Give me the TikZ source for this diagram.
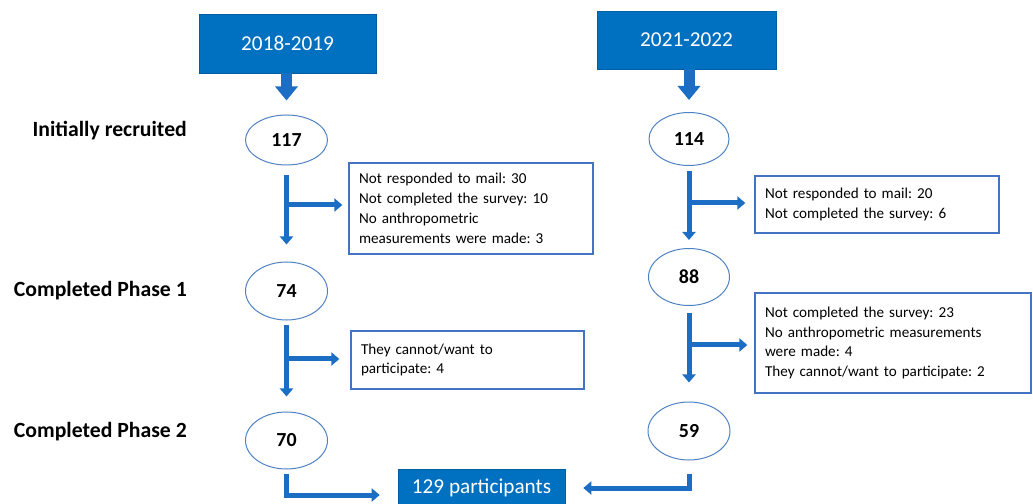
\documentclass[tikz,border=0pt]{standalone}
\usepackage{fontspec}
\setmainfont{Carlito}
\usetikzlibrary{arrows.meta,shapes.geometric}
\definecolor{boxblue}{RGB}{0,112,192}
\definecolor{arrblue}{RGB}{28,110,196}
\definecolor{ellblue}{RGB}{80,130,195}
\definecolor{tbblue}{RGB}{68,114,196}
\frenchspacing
\tikzset{
  yearbox/.style={rectangle, fill=boxblue, draw=boxblue!85!black, line width=0.6bp, text=white, font=\fontsize{21.3}{24}\selectfont, inner sep=0pt},
  numell/.style={ellipse, draw=ellblue, line width=1bp, inner sep=0pt, font=\fontsize{20}{24}\selectfont\bfseries},
  tbox/.style={rectangle, draw=tbblue, line width=1.3bp, align=left, inner xsep=10bp, inner ysep=0pt, anchor=center, font=\fontsize{15.2}{20}\selectfont},
  lab/.style={anchor=base east, inner sep=0pt, font=\fontsize{21.8}{24}\selectfont\bfseries},
  flow/.style={draw=arrblue, line width=5bp, -{Triangle[width=13bp,length=8bp]}},
  bigflow/.style={draw=arrblue, line width=11bp, -{Triangle[width=22bp,length=14bp]}},
}
\begin{document}
\begin{tikzpicture}[x=1bp,y=-1bp]
\useasboundingbox (0,0) rectangle (1033,504);
% year boxes
\node[yearbox, minimum width=177bp, minimum height=59bp] (y1) at (287.5,43.5) {2018-2019};
\node[yearbox, minimum width=179bp, minimum height=58bp] (y2) at (686.5,40) {2021-2022};
% ellipses
\node[numell, minimum width=82bp, minimum height=50bp] (e117) at (286.5,140) {117};
\node[numell, minimum width=82bp, minimum height=58bp] (e74) at (286.5,291) {74};
\node[numell, minimum width=82bp, minimum height=57bp] (e70) at (286.5,440.5) {70};
\node[numell, minimum width=80bp, minimum height=53bp] (e114) at (689,139) {114};
\node[numell, minimum width=81bp, minimum height=57bp] (e88) at (689,277) {88};
\node[numell, minimum width=82bp, minimum height=58bp] (e59) at (689,431) {59};
% labels
\node[lab] (l1) at (187,137) {Initially recruited};
\node[lab] (l2) at (187,297) {Completed Phase 1};
\node[lab] (l3) at (187,437) {Completed Phase 2};
% text boxes
\node[tbox, minimum width=244bp, minimum height=91bp, text width=224bp] (b1) at (471,208.5) {Not responded to mail: 30\\Not completed the survey: 10\\No anthropometric\\measurements were made: 3};
\node[tbox, minimum width=244bp, minimum height=57bp, text width=224bp] (b2) at (877,204.5) {Not responded to mail: 20\\Not completed the survey: 6\\[4bp]};
\node[tbox, minimum width=233bp, minimum height=58bp, text width=213bp] (b3) at (467.5,360) {They cannot/want to\\participate: 4\\[4bp]};
\node[tbox, minimum width=276bp, minimum height=100bp, text width=256bp] (b4) at (893,343) {Not completed the survey: 23\\No anthropometric measurements\\were made: 4\\They cannot/want to participate: 2};
% final box
\node[yearbox, minimum width=167bp, minimum height=37bp] (fin) at (481.5,487.5) {129 participants};
% top arrows
\draw[bigflow] (y1.south -| e117) -- ([yshift=14bp]e117.north);
\draw[bigflow] (y2.south -| e114) -- ([yshift=12bp]e114.north);
% vertical arrows
\draw[flow] ([yshift=-10bp]e117.south) -- ([yshift=17bp]e74.north);
\draw[flow] ([yshift=-5bp]e74.south) -- ([yshift=15bp]e70.north);
\draw[flow] ([yshift=-5bp]e114.south) -- ([yshift=8bp]e88.north);
\draw[flow] ([yshift=-7bp]e88.south) -- ([yshift=19bp]e59.north);
% branch arrows
\coordinate (c1) at (286.5,205);
\coordinate (c2) at (689,203);
\coordinate (c3) at (286.5,359);
\coordinate (c4) at (689,345);
\draw[flow, shorten >=6bp] ([xshift=-2.5bp]c1) -- (c1 -| b1.west);
\draw[flow, shorten >=9bp] ([xshift=-2.5bp]c2) -- (c2 -| b2.west);
\draw[flow, shorten >=11bp] ([xshift=-2.5bp]c3) -- (c3 -| b3.west);
\draw[flow, shorten >=7bp] ([xshift=-2.5bp]c4) -- (c4 -| b4.west);
% bottom elbows
\coordinate (k1) at (286.5,495);
\coordinate (k2) at (689,488);
\draw[flow, shorten >=18bp] ([yshift=-4bp]e70.south) -- (k1) -- (k1 -| fin.west);
\draw[flow, shorten >=18bp] ([yshift=-13bp]e59.south) -- (k2) -- (k2 -| fin.east);
\end{tikzpicture}
\end{document}
